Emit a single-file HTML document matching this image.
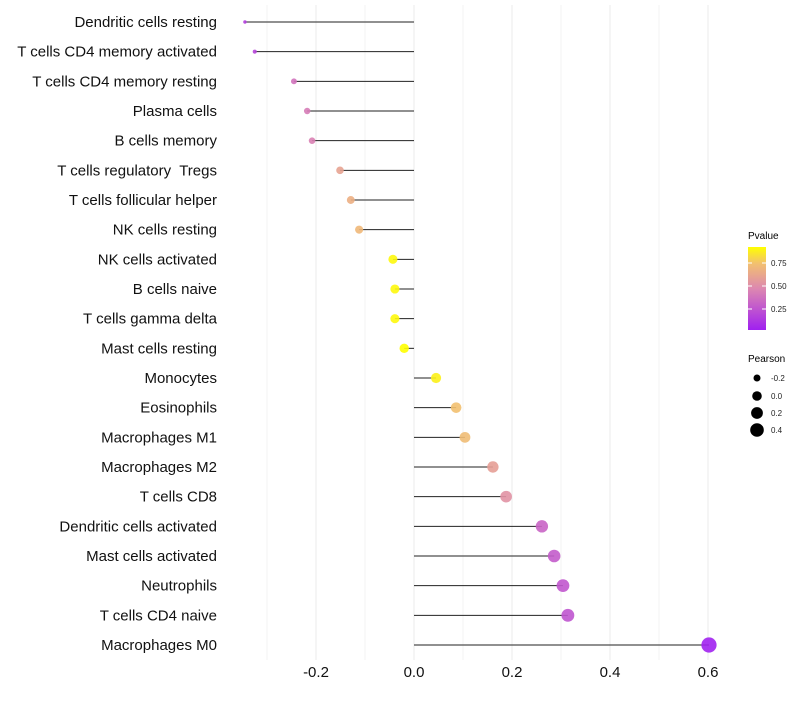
<!DOCTYPE html>
<html><head><meta charset="utf-8"><style>
body{margin:0;background:#fff;font-family:"Liberation Sans",sans-serif;}
text{white-space:pre;}
</style></head><body>
<svg id="chart" width="800" height="700" xmlns="http://www.w3.org/2000/svg" font-family="Liberation Sans, sans-serif">
<defs><linearGradient id="pg" x1="0" y1="1" x2="0" y2="0">
<stop offset="0" stop-color="#a020f0"/><stop offset="0.5" stop-color="#dd88b0"/><stop offset="0.8" stop-color="#f2c070"/><stop offset="1" stop-color="#ffff00"/></linearGradient></defs>
<g id="grid"></g>
<g id="marks"></g>
<g id="labels"></g>
<g>
<text x="748" y="239" font-size="10" fill="#000">Pvalue</text>
<rect x="748" y="247" width="18" height="83" fill="url(#pg)"/>
<line x1="748" x2="752" y1="263" y2="263" stroke="#fff"/><line x1="762" x2="766" y1="263" y2="263" stroke="#fff"/>
<line x1="748" x2="752" y1="286" y2="286" stroke="#fff"/><line x1="762" x2="766" y1="286" y2="286" stroke="#fff"/>
<line x1="748" x2="752" y1="309" y2="309" stroke="#fff"/><line x1="762" x2="766" y1="309" y2="309" stroke="#fff"/>
<text x="771" y="266" font-size="8" fill="#222">0.75</text>
<text x="771" y="289" font-size="8" fill="#222">0.50</text>
<text x="771" y="312" font-size="8" fill="#222">0.25</text>
</g>
<g>
<text x="748" y="362" font-size="10" fill="#000">Pearson</text>
<circle cx="757" cy="378" r="3.5" fill="#000"/><text x="771" y="381" font-size="8" fill="#222">-0.2</text>
<circle cx="757" cy="396" r="4.8" fill="#000"/><text x="771" y="399" font-size="8" fill="#222">0.0</text>
<circle cx="757" cy="413" r="5.9" fill="#000"/><text x="771" y="416" font-size="8" fill="#222">0.2</text>
<circle cx="757" cy="430" r="6.8" fill="#000"/><text x="771" y="433" font-size="8" fill="#222">0.4</text>
</g>
</svg>
<script>
const categories=["Dendritic cells resting","T cells CD4 memory activated","T cells CD4 memory resting","Plasma cells","B cells memory","T cells regulatory  Tregs","T cells follicular helper","NK cells resting","NK cells activated","B cells naive","T cells gamma delta","Mast cells resting","Monocytes","Eosinophils","Macrophages M1","Macrophages M2","T cells CD8","Dendritic cells activated","Mast cells activated","Neutrophils","T cells CD4 naive","Macrophages M0"];
const pearson=[-0.345,-0.325,-0.245,-0.218,-0.208,-0.151,-0.129,-0.112,-0.043,-0.039,-0.039,-0.02,0.045,0.086,0.104,0.161,0.188,0.261,0.286,0.304,0.314,0.602];
const pvalue=[0.15,0.18,0.38,0.42,0.44,0.6,0.66,0.7,0.9,0.9,0.9,0.93,0.88,0.74,0.72,0.58,0.52,0.32,0.28,0.26,0.25,0.03];
const xTicks=[-0.2,0,0.2,0.4,0.6];
const xTickLabels=["-0.2","0.0","0.2","0.4","0.6"];
const xGrid=[-0.3,-0.2,-0.1,0,0.1,0.2,0.3,0.4,0.5,0.6];
const NS="http://www.w3.org/2000/svg";
const x=v=>414+v*490;
const y=i=>22+i*(623/21);
const pMin=0.02,pMax=0.92;
const stops=[[0,[160,32,240]],[0.5,[221,136,176]],[0.8,[242,192,112]],[1,[255,255,0]]];
function col(p){let t=Math.max(0,Math.min(1,(p-pMin)/(pMax-pMin)));for(let k=1;k<stops.length;k++){if(t<=stops[k][0]){const a=stops[k-1],b=stops[k];const u=(t-a[0])/(b[0]-a[0]);const c=a[1].map((v,j)=>Math.round(v+(b[1][j]-v)*u));return `rgb(${c.join(',')})`;}}return 'rgb(255,255,0)';}
const rad=v=>Math.sqrt(3+(v+0.345)/0.947*55);
function mk(tag,attrs,parent){const e=document.createElementNS(NS,tag);for(const k in attrs)e.setAttribute(k,attrs[k]);document.getElementById(parent).appendChild(e);return e;}
xGrid.forEach((g,i)=>{const l=mk('line',{x1:x(g),x2:x(g),y1:5,y2:660,stroke:i%2===1?'#ebebeb':'#f3f3f3','stroke-width':1},'grid');

});
xTicks.forEach((t,i)=>{const tx=mk('text',{x:x(t),y:677,'font-size':15,fill:'#111','text-anchor':'middle'},'labels');tx.textContent=xTickLabels[i];

});
categories.forEach((c,i)=>{
const tx=mk('text',{x:217,y:y(i)+5,'font-size':15,fill:'#111','text-anchor':'end'},'labels');tx.textContent=c;


const l=mk('line',{x1:x(0),x2:x(pearson[i]),y1:y(i),y2:y(i),stroke:'#222','stroke-width':1},'marks');


const p=mk('circle',{cx:x(pearson[i]),cy:y(i),r:rad(pearson[i]),fill:col(pvalue[i]),'fill-opacity':0.9},'marks');


});
</script>
</body></html>
